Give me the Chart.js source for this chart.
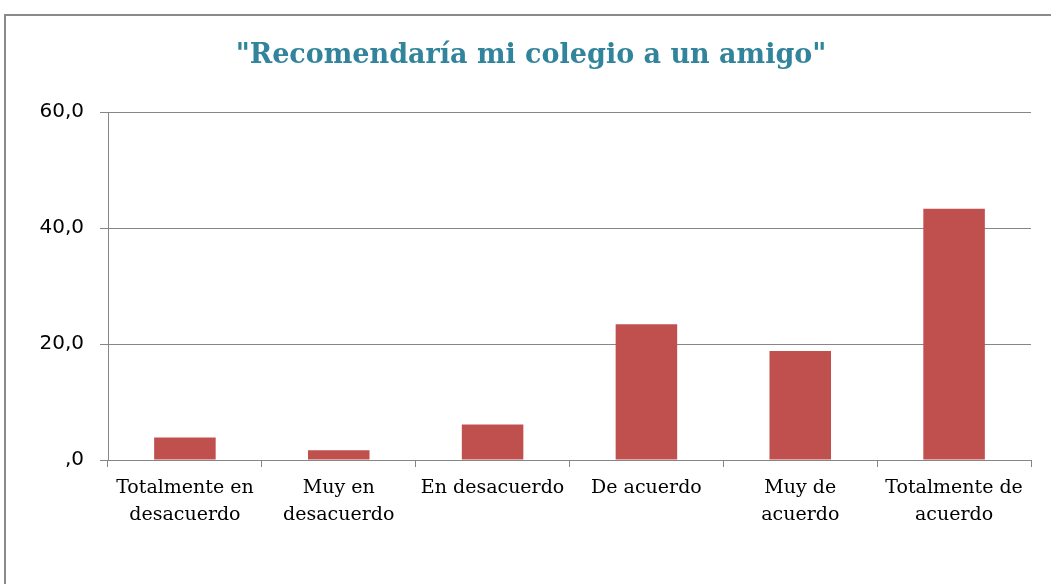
<!DOCTYPE html>
<html>
<head>
<meta charset="utf-8">
<script src="https://cdn.jsdelivr.net/npm/chart.js@4"></script>
<style>
  html, body { margin: 0; padding: 0; background: #fff; overflow: hidden; }
  #frame {
    position: absolute; left: 4px; top: 14px; width: 1200px; height: 700px;
    border-left: 2px solid #8a8a8a; border-top: 2px solid #8a8a8a;
  }
  #wrap { position: absolute; left: 0; top: 0; width: 1051px; height: 584px; }
</style>
</head>
<body>
<div id="frame"></div>
<div id="wrap"><canvas id="chartRecomienda"></canvas></div>
<script>
// ── Data ──
const categorias = [
  ['Totalmente en', 'desacuerdo'],
  ['Muy en', 'desacuerdo'],
  'En desacuerdo',
  'De acuerdo',
  ['Muy de', 'acuerdo'],
  ['Totalmente de', 'acuerdo']
];
const porcentajes = [3.9, 1.7, 6.1, 23.4, 18.8, 43.3];
const ejeY = { min: 0, max: 60, paso: 20 };

const titulo = '"Recomendaría mi colegio a un amigo"';

// ── Chart ──
const ctx = document.getElementById('chartRecomienda').getContext('2d');
new Chart(ctx, {
  type: 'bar',
  data: {
    labels: categorias,
    datasets: [{
      data: porcentajes,
      backgroundColor: '#C0504D',
      borderWidth: 0,
      categoryPercentage: 0.8,
      barPercentage: 0.5
    }]
  },
  options: {
    responsive: true,
    maintainAspectRatio: false,
    animation: false,
    layout: { padding: { left: 31, right: 20, top: 0, bottom: 0 } },
    plugins: {
      legend: { display: false },
      tooltip: { enabled: false },
      title: {
        display: true,
        text: titulo,
        color: '#31849B',
        font: { family: 'DejaVu Serif', size: 27, weight: 'bold', lineHeight: 1.2 },
        padding: { top: 40, bottom: 39.6 }
      }
    },
    scales: {
      x: {
        offset: true,
        afterFit: s => { s.height = 124; },
        grid: { drawOnChartArea: false, drawTicks: true, offset: true, tickLength: 7, color: '#868686' },
        border: { color: '#868686', width: 1 },
        ticks: {
          autoSkip: false, maxRotation: 0, minRotation: 0, padding: 8,
          color: '#000',
          font: { family: 'DejaVu Serif', size: 19, lineHeight: 1.42 }
        }
      },
      y: {
        min: ejeY.min, max: ejeY.max,
        afterFit: s => { s.width = 77; },
        grid: { color: '#868686', lineWidth: 1, tickLength: 8 },
        border: { color: '#868686', width: 1 },
        ticks: {
          stepSize: ejeY.paso, padding: 16, color: '#000',
          font: { family: 'DejaVu Sans', size: 20 },
          callback: v => v === 0 ? ',0' : v.toFixed(1).replace('.', ',')
        }
      }
    }
  }
});
</script>
</body>
</html>
